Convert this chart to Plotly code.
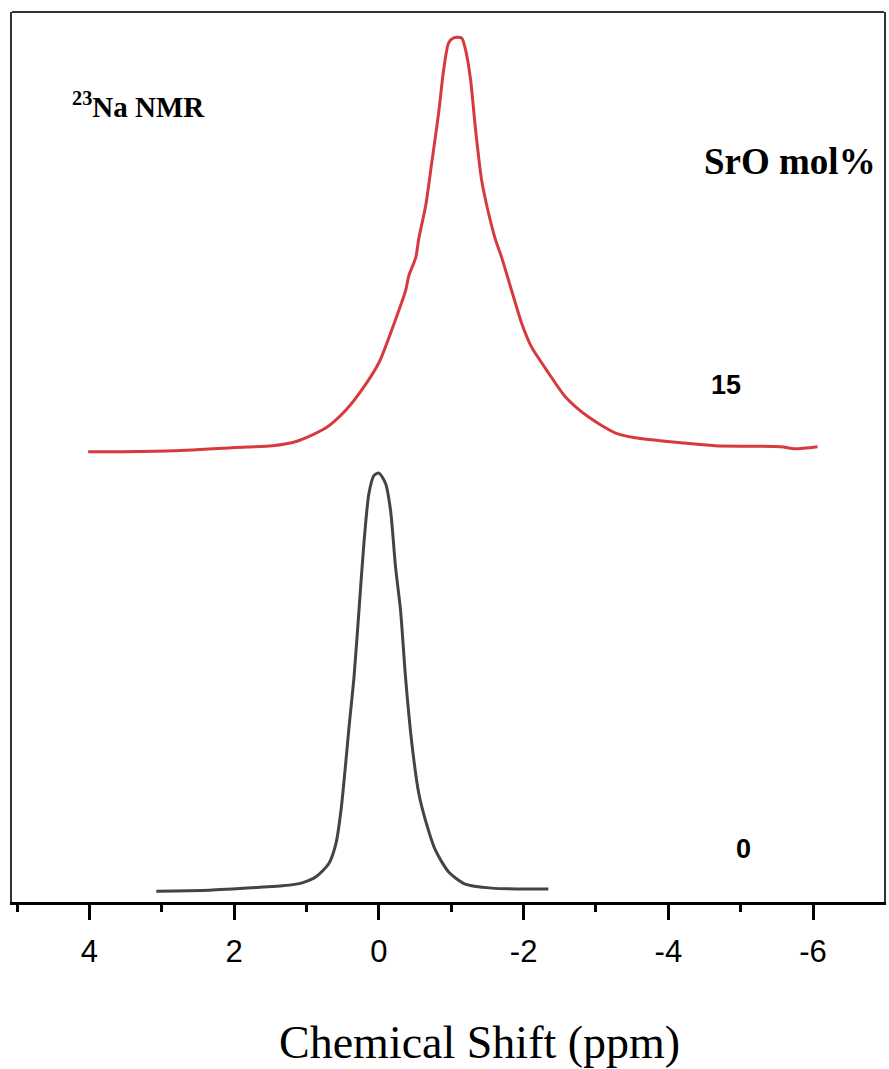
import plotly.graph_objects as go

# 23Na MAS NMR spectra, stacked by SrO content (intensities normalised to peak = 100)
shift_0 = [3.076, 2.342, 1.612, 1.336, 1.061, 0.868, 0.689, 0.592, 0.523, 0.455,
           0.413, 0.344, 0.275, 0.207, 0.138, 0.069, 0.0, -0.092, -0.161, -0.230,
           -0.299, -0.368, -0.455, -0.551, -0.643, -0.781, -0.964, -1.194, -1.556, -2.342]
inten_0 = [0.0, 0.24, 0.96, 1.27, 1.98, 3.42, 6.69, 11.5, 19.4, 31.3,
           39.2, 51.2, 67.2, 83.2, 95.1, 99.4, 100.0, 97.5, 91.1, 77.5,
           67.2, 51.2, 35.4, 23.4, 17.0, 9.8, 4.6, 1.67, 0.72, 0.48]

shift_15 = [4.018, 3.678, 2.851, 1.836, 1.474, 1.143, 0.730, 0.455, 0.234, 0.0,
            -0.179, -0.372, -0.413, -0.510, -0.551, -0.647, -0.730, -0.826, -0.895, -0.964,
            -1.033, -1.143, -1.198, -1.267, -1.336, -1.419, -1.515, -1.612, -1.694, -1.832,
            -1.970, -2.107, -2.342, -2.576, -2.893, -3.264, -3.540, -4.174, -4.642, -5.551,
            -5.744, -6.061]
inten_15 = [0.0, 0.0, 0.24, 1.14, 1.45, 2.49, 5.80, 10.1, 15.0, 21.5,
            29.5, 39.1, 42.5, 47.0, 51.5, 59.5, 69.8, 81.9, 92.3, 98.8,
            100.0, 100.0, 97.1, 89.9, 77.8, 65.7, 57.7, 51.2, 47.1, 39.1,
            31.2, 25.4, 19.1, 13.3, 8.45, 4.59, 3.38, 2.17, 1.45, 1.21,
            0.72, 1.21]

# vertical stacking: offset and scale for each spectrum
offset_0, scale_0 = 2.6, 1.0
offset_15, scale_15 = 107.7, 0.99

x_ticks = [4, 2, 0, -2, -4, -6]

SERIF = "Liberation Serif, Times New Roman, serif"
SANS = "Liberation Sans, Arial, sans-serif"

fig = go.Figure()
fig.add_trace(go.Scatter(
    x=shift_15, y=[offset_15 + scale_15 * v for v in inten_15],
    mode="lines", line=dict(color="#d63a3c", width=3, shape="spline", smoothing=0.7),
    name="15"))
fig.add_trace(go.Scatter(
    x=shift_0, y=[offset_0 + scale_0 * v for v in inten_0],
    mode="lines", line=dict(color="#444444", width=3, shape="spline", smoothing=0.7),
    name="0"))

W, H = 889, 1069
L, R, T, B = 12, 3, 12, 167
pw, ph = W - L - R, H - T - B


def px(xp):
    return (xp - L) / pw


def py(yp):
    return (H - B - yp) / ph


fig.update_layout(
    width=W, height=H,
    margin=dict(l=L, r=R, t=T, b=B, pad=0),
    paper_bgcolor="white", plot_bgcolor="white",
    showlegend=False,
    xaxis=dict(
        range=[5.07, -6.98], tickvals=x_ticks, ticktext=[str(v) for v in x_ticks],
        ticks="outside", ticklen=15, tickwidth=3, tickcolor="black",
        ticklabelstandoff=5,
        showline=True, linewidth=3, linecolor="black",
        showgrid=False, zeroline=False,
        tickfont=dict(family=SANS, size=31, color="black"),
        minor=dict(dtick=1, tick0=0, ticks="outside", ticklen=7, tickwidth=3,
                   tickcolor="black", showgrid=False),
    ),
    yaxis=dict(
        range=[0, 212.9], showticklabels=False, ticks="",
        showline=True, linewidth=2, linecolor="#333333", mirror=True,
        showgrid=False, zeroline=False,
    ),
    shapes=[dict(type="line", xref="paper", yref="paper", x0=0, x1=1, y0=1, y1=1,
                 line=dict(color="#333333", width=2))],
    annotations=[
        dict(text="<b><sup>23</sup>Na NMR</b>", x=px(70), y=py(105), xref="paper", yref="paper",
             xanchor="left", yanchor="middle", showarrow=False,
             font=dict(family=SERIF, size=29, color="black")),
        dict(text="<b>SrO mol%</b>", x=px(792), y=py(161), xref="paper", yref="paper",
             xanchor="center", yanchor="middle", showarrow=False,
             font=dict(family=SERIF, size=37, color="black")),
        dict(text="<b>15</b>", x=px(728), y=py(385), xref="paper", yref="paper",
             xanchor="center", yanchor="middle", showarrow=False,
             font=dict(family=SANS, size=27, color="black")),
        dict(text="<b>0</b>", x=px(745), y=py(849), xref="paper", yref="paper",
             xanchor="center", yanchor="middle", showarrow=False,
             font=dict(family=SANS, size=27, color="black")),
        dict(text="Chemical Shift (ppm)", x=px(481), y=py(1042), xref="paper", yref="paper",
             xanchor="center", yanchor="middle", showarrow=False,
             font=dict(family=SERIF, size=46, color="black")),
    ],
)

fig.write_html("out.html")
